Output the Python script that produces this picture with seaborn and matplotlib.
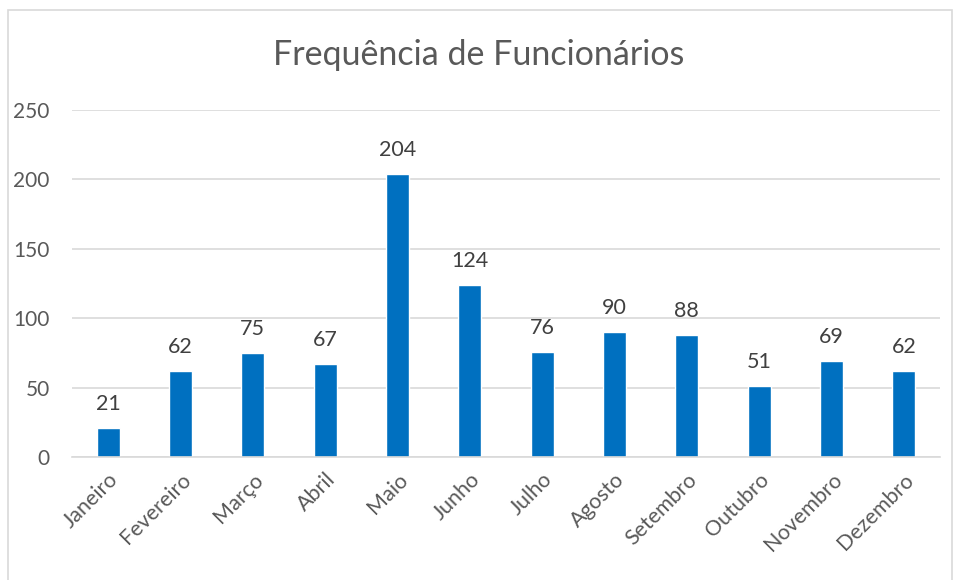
import pandas as pd
import seaborn as sns
import matplotlib.pyplot as plt
from matplotlib.patches import Rectangle

meses = ['Janeiro', 'Fevereiro', 'Março', 'Abril', 'Maio', 'Junho',
         'Julho', 'Agosto', 'Setembro', 'Outubro', 'Novembro', 'Dezembro']
funcionarios = [21, 62, 75, 67, 204, 124, 76, 90, 88, 51, 69, 62]
y_ticks = [0, 50, 100, 150, 200, 250]

df = pd.DataFrame({'mes': meses, 'freq': funcionarios})

sns.set_theme(style='white')
plt.rcParams['font.family'] = ['Lato', 'DejaVu Sans']

fig = plt.figure(figsize=(9.57, 5.8), dpi=100)
ax = fig.add_axes([72 / 957, 1 - 457 / 580, 868 / 957, 347 / 580])

sns.barplot(data=df, x='mes', y='freq', color='#0070C0', saturation=1,
            width=0.32, ax=ax)

# rótulos de dados acima das barras
for i, v in enumerate(funcionarios):
    ax.text(i, v + 10, str(v), ha='center', va='bottom', fontsize=15.5, color='#404040')

ax.set_ylim(0, 250)
ax.set_xlim(-0.5, len(meses) - 0.5)
ax.set_yticks(y_ticks)
ax.yaxis.grid(True, color='#D9D9D9', linewidth=1.2)
ax.set_axisbelow(True)
for s in ['top', 'right', 'left']:
    ax.spines[s].set_visible(False)
ax.spines['bottom'].set_color('#D9D9D9')
ax.spines['bottom'].set_linewidth(1.2)
ax.set_xlabel('')
ax.set_ylabel('')
ax.tick_params(axis='y', labelsize=15, labelcolor='#595959', length=0, pad=16)
ax.tick_params(axis='x', labelsize=15.5, labelcolor='#595959', length=0, pad=9)
plt.setp(ax.get_xticklabels(), rotation=45, ha='right', rotation_mode='anchor')

fig.text(0.5, 1 - 55 / 580, 'Frequência de Funcionários', ha='center', va='center',
         fontsize=24.5, color='#595959')

# borda do gráfico
fig.patches.append(Rectangle((8 / 957, -0.05), 944 / 957, 1.05 - 10 / 580,
                             transform=fig.transFigure, fill=False,
                             edgecolor='#D9D9D9', linewidth=1.2))

fig.savefig('out.png', dpi=100)
